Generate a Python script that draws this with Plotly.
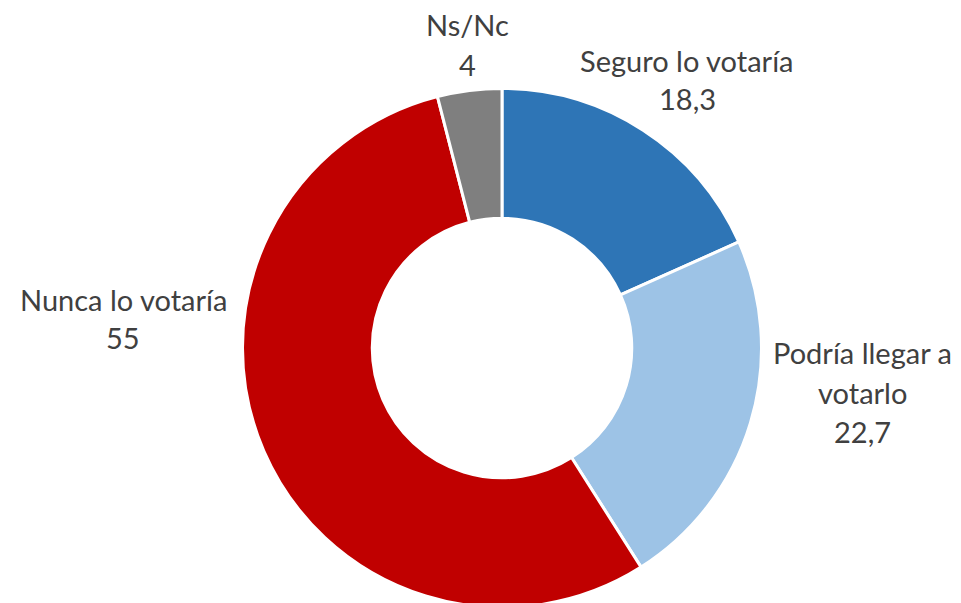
import plotly.graph_objects as go

categories = ["Seguro lo votaría", "Podría llegar a votarlo", "Nunca lo votaría", "Ns/Nc"]
values = [18.3, 22.7, 55, 4]
label_lines = [["Seguro lo votaría"], ["Podría llegar a", "votarlo"], ["Nunca lo votaría"], ["Ns/Nc"]]
colors = ["#2E75B6", "#9DC3E6", "#C00000", "#7F7F7F"]

W, H = 961, 603
# the page body adds an 8px offset; anchors are in screenshot pixels
page_off = 8
# pixel anchor (center x, cap-center y of first line) for each label
anchors = [(687, 62), (862, 355), (123, 301), (467, 27)]
line_gap = 39
cap_offset = 2

fig = go.Figure(go.Pie(
    labels=categories,
    values=values,
    hole=0.5,
    sort=False,
    direction="clockwise",
    rotation=0,
    marker=dict(colors=colors, line=dict(color="white", width=3)),
    textinfo="none",
    hoverinfo="label+value",
    showlegend=False,
    domain=dict(x=[234.5 / W, 753.5 / W], y=[3.5 / H, 522.5 / H]),
))

def fmt(v):
    return ("%g" % v).replace(".", ",")

font = dict(family="Lato, Open Sans, sans-serif", size=29, color="#404040")
for lines, v, (ax, ay) in zip(label_lines, values, anchors):
    all_lines = lines + [fmt(v)]
    for i, t in enumerate(all_lines):
        fig.add_annotation(
            x=(ax - page_off) / W,
            y=1 - (ay - page_off - cap_offset + i * line_gap) / H,
            xref="paper", yref="paper",
            text=t, showarrow=False, font=font,
            xanchor="center", yanchor="middle",
        )

fig.update_layout(
    width=W, height=H,
    margin=dict(l=0, r=0, t=0, b=0),
    paper_bgcolor="white", plot_bgcolor="white",
)

fig.write_html("out.html")
